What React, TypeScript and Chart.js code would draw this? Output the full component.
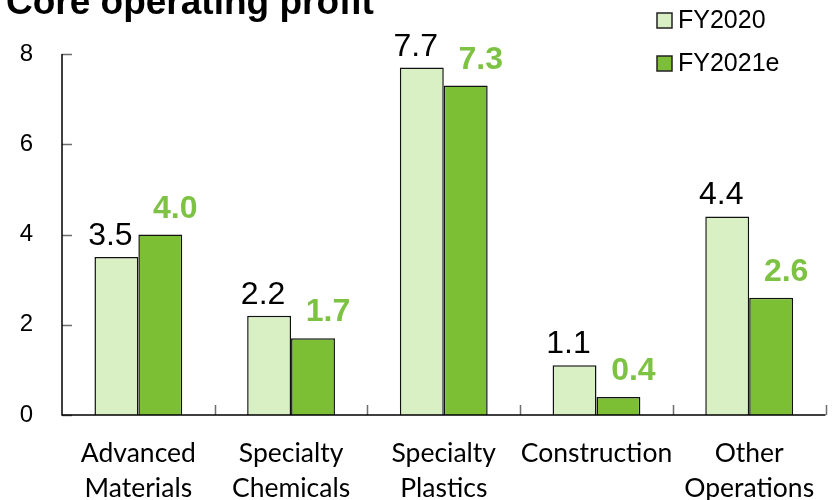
import React, { useEffect, useRef } from "react";
import { Chart, registerables } from "chart.js";

Chart.register(...registerables);

const categories: string[][] = [
  ["Advanced", "Materials"],
  ["Specialty", "Chemicals"],
  ["Specialty", "Plastics"],
  ["Construction"],
  ["Other", "Operations"],
];
const fy2020: number[] = [3.5, 2.2, 7.7, 1.1, 4.4];
const fy2021e: number[] = [4.0, 1.7, 7.3, 0.4, 2.6];
const yTicks: number[] = [0, 2, 4, 6, 8];
const seriesNames: string[] = ["FY2020", "FY2021e"];
const chartTitle = "Core operating profit";

const LIGHT = "#d9efc4";
const DARK = "#7dbf34";
const LABEL_GREEN = "#7dc242";

const overlayPlugin = {
  id: "overlay",
  afterDatasetsDraw(chart: any) {
    const ctx = chart.ctx;
    const xs = chart.scales.x;
    const ys = chart.scales.y;
    const area = chart.chartArea;
    ctx.save();
    // inside tick marks
    ctx.strokeStyle = "#6e6e6e";
    ctx.lineWidth = 1.5;
    ctx.beginPath();
    yTicks.forEach((v) => {
      const y = Math.round(ys.getPixelForValue(v)) + 0.5;
      ctx.moveTo(area.left, y);
      ctx.lineTo(area.left + 10, y);
    });
    const n = categories.length;
    for (let i = 0; i < n; i++) {
      const x =
        i < n - 1
          ? (xs.getPixelForValue(i) + xs.getPixelForValue(i + 1)) / 2
          : xs.right;
      ctx.moveTo(Math.round(x) + 0.5, area.bottom);
      ctx.lineTo(Math.round(x) + 0.5, area.bottom - 10);
    }
    ctx.stroke();
    // axis lines
    ctx.strokeStyle = "#000";
    ctx.lineWidth = 1.5;
    ctx.beginPath();
    ctx.moveTo(area.left, area.top);
    ctx.lineTo(area.left, area.bottom);
    ctx.lineTo(area.right, area.bottom);
    ctx.stroke();

    // data labels
    chart.data.datasets.forEach((ds: any, di: number) => {
      const meta = chart.getDatasetMeta(di);
      meta.data.forEach((bar: any, i: number) => {
        const v = ds.data[i];
        const txt = v.toFixed(1);
        ctx.textAlign = "center";
        ctx.textBaseline = "alphabetic";
        if (di === 0) {
          ctx.font = "32px 'Liberation Sans', Arial, sans-serif";
          ctx.fillStyle = "#000";
          ctx.fillText(txt, bar.x - 6, bar.y - 12);
        } else {
          ctx.font = "bold 32px 'Liberation Sans', Arial, sans-serif";
          ctx.fillStyle = LABEL_GREEN;
          ctx.fillText(txt, bar.x + 15, bar.y - 17);
        }
      });
    });

    // title
    ctx.font = "bold 37px 'Liberation Sans', Arial, sans-serif";
    ctx.fillStyle = "#000";
    ctx.textAlign = "left";
    ctx.textBaseline = "alphabetic";
    ctx.fillText(chartTitle, 6, 14);

    // legend
    const fills = [LIGHT, DARK];
    seriesNames.forEach((name, k) => {
      const cy = 20 + k * 43;
      ctx.fillStyle = fills[k];
      ctx.fillRect(657, cy - 7, 15, 15);
      ctx.strokeStyle = "#222";
      ctx.lineWidth = 1.5;
      ctx.strokeRect(657, cy - 7, 15, 15);
      ctx.fillStyle = "#000";
      ctx.font = "25px 'Liberation Sans', Arial, sans-serif";
      ctx.textAlign = "left";
      ctx.textBaseline = "middle";
      ctx.fillText(name, 678, cy + 1);
    });
    ctx.restore();
  },
};

export default function App() {
  const ref = useRef<HTMLCanvasElement | null>(null);
  useEffect(() => {
    if (!ref.current) return;
    const chart = new Chart(ref.current, {
      type: "bar",
      data: {
        labels: categories,
        datasets: [
          {
            label: seriesNames[0],
            data: fy2020,
            backgroundColor: LIGHT,
            borderColor: "#111",
            borderWidth: 1.5,
            categoryPercentage: 0.575,
            barPercentage: 1,
          },
          {
            label: seriesNames[1],
            data: fy2021e,
            backgroundColor: DARK,
            borderColor: "#111",
            borderWidth: 1.5,
            categoryPercentage: 0.575,
            barPercentage: 1,
          },
        ],
      },
      options: {
        animation: false,
        responsive: false,
        maintainAspectRatio: false,
        layout: { padding: { left: 0, right: 9, top: 54, bottom: 0 } },
        plugins: {
          legend: { display: false },
          title: { display: false },
          tooltip: { enabled: false },
        },
        scales: {
          x: {
            grid: { display: false, drawTicks: false },
            border: { display: false },
            ticks: {
              color: "#000",
              font: { family: "Lato, 'Open Sans', sans-serif", size: 26.5, lineHeight: 1.32 },
              padding: 21,
              maxRotation: 0,
              autoSkip: false,
            },
            afterFit: (s: any) => {
              s.height = 85;
            },
          },
          y: {
            min: 0,
            max: 8,
            afterBuildTicks: (s: any) => {
              s.ticks = yTicks.map((v) => ({ value: v }));
            },
            grid: { display: false, drawTicks: false },
            border: { display: false },
            ticks: {
              color: "#000",
              font: { family: "'Liberation Sans', Arial, sans-serif", size: 24 },
              padding: 29,
            },
            afterFit: (s: any) => {
              s.width = 62;
            },
          },
        },
      },
      plugins: [overlayPlugin],
    });
    return () => chart.destroy();
  }, []);
  return (
    <div style={{ position: "fixed", left: 0, top: 0, width: 836, height: 500, background: "#fff" }}>
      <canvas ref={ref} width={836} height={500} style={{ width: 836, height: 500 }} />
    </div>
  );
}
